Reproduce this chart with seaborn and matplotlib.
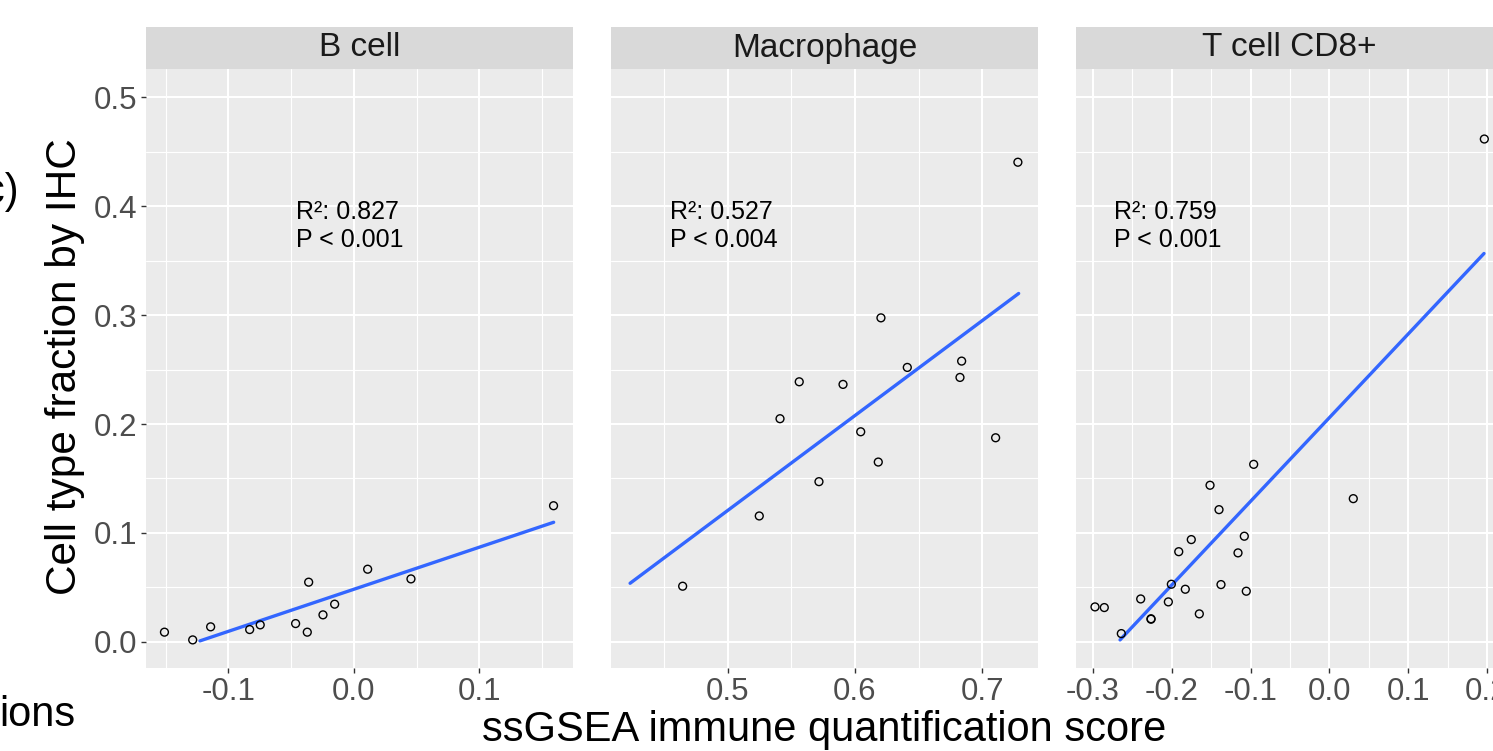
import matplotlib

matplotlib.use("Agg")

import matplotlib.pyplot as plt
import matplotlib.patches as mpatches
from matplotlib.ticker import MultipleLocator, FixedLocator
import seaborn as sns

# ── Data ──────────────────────────────────────────────────────────────────

PANELS = ["B cell", "Macrophage", "T cell CD8+"]

bcell_x = [-0.151, -0.1285, -0.1142, -0.0831, -0.0747, -0.0465, -0.0372,
           -0.0361, -0.0247, -0.0154, 0.0109, 0.0454, 0.159]
bcell_y = [0.0089, 0.0018, 0.0138, 0.0113, 0.0156, 0.0168, 0.0089,
           0.0548, 0.0248, 0.0346, 0.0667, 0.0578, 0.125]

macro_x = [0.4646, 0.5248, 0.5411, 0.5562, 0.5717, 0.5906, 0.6045,
           0.6183, 0.6204, 0.6411, 0.6825, 0.6838, 0.7105, 0.728]
macro_y = [0.0511, 0.1156, 0.2049, 0.2388, 0.1471, 0.2364, 0.1929,
           0.1651, 0.2975, 0.2520, 0.2428, 0.2578, 0.1874, 0.4404]

cd8_x = [-0.2975, -0.2857, -0.2641, -0.2395, -0.2264, -0.2264, -0.2044,
         -0.2006, -0.1912, -0.1829, -0.1753, -0.1651, -0.1515, -0.1401,
         -0.1376, -0.1160, -0.1080, -0.1055, -0.0961, 0.0303, 0.1966]
cd8_y = [0.0321, 0.0315, 0.0076, 0.0394, 0.0208, 0.0212, 0.0367,
         0.0529, 0.0828, 0.0483, 0.0939, 0.0257, 0.1438, 0.1214,
         0.0526, 0.0817, 0.0970, 0.0465, 0.1630, 0.1315, 0.4617]

# fitted lines as drawn in the figure (end points)
bcell_fit_x = [-0.1227, 0.1591]
bcell_fit_y = [0.0009, 0.1098]
macro_fit_x = [0.4233, 0.7286]
macro_fit_y = [0.0538, 0.3199]
cd8_fit_x = [-0.2657, 0.1962]
cd8_fit_y = [0.0018, 0.3566]

r2_labels = ["R²: 0.827", "R²: 0.527", "R²: 0.759"]
p_labels = ["P < 0.001", "P < 0.004", "P < 0.001"]

x_ticks = [[-0.1, 0.0, 0.1], [0.5, 0.6, 0.7], [-0.3, -0.2, -0.1, 0.0, 0.1, 0.2]]
x_ticklabels = [["-0.1", "0.0", "0.1"], ["0.5", "0.6", "0.7"],
                ["-0.3", "-0.2", "-0.1", "0.0", "0.1", "0.2"]]
y_ticks = [0.0, 0.1, 0.2, 0.3, 0.4, 0.5]
y_ticklabels = ["0.0", "0.1", "0.2", "0.3", "0.4", "0.5"]

# ── Layout ────────────────────────────────────────────────────────────────

W, H = 1493, 751
PANEL_LEFT_PX = [146, 611, 1076]
PANEL_W_PX = 427
PANEL_TOP_PX, PANEL_BOTTOM_PX = 69, 668
STRIP_H_PX = 42

x_limits = [(-0.1657, 0.1745), (0.4083, 0.7438), (-0.3216, 0.2203)]
y_limits = (-0.024, 0.526)
text_x = [-0.046, 0.4547, -0.2733]

sns.set_theme(style="darkgrid")
plt.rcParams.update({
    "axes.facecolor": "#EBEBEB",
    "grid.color": "white",
    "axes.unicode_minus": False,
})
plt.rcParams["font.family"] = ["Liberation Sans", "DejaVu Sans"]

fig = plt.figure(figsize=(W / 100, H / 100), dpi=100)

data = [(bcell_x, bcell_y, bcell_fit_x, bcell_fit_y),
        (macro_x, macro_y, macro_fit_x, macro_fit_y),
        (cd8_x, cd8_y, cd8_fit_x, cd8_fit_y)]

for i, (px, py, fx, fy) in enumerate(data):
    rect = [PANEL_LEFT_PX[i] / W, 1 - PANEL_BOTTOM_PX / H,
            PANEL_W_PX / W, (PANEL_BOTTOM_PX - PANEL_TOP_PX) / H]
    ax = fig.add_axes(rect)

    sns.lineplot(x=fx, y=fy, color="#3366FF", linewidth=2.4, ax=ax, zorder=3)
    sns.scatterplot(x=px, y=py, marker="o", s=32, facecolor="none",
                    edgecolor="black", linewidth=1.0, ax=ax, zorder=4)

    ax.set_xlim(*x_limits[i])
    ax.set_ylim(*y_limits)
    ax.xaxis.set_major_locator(FixedLocator(x_ticks[i]))
    ax.set_xticklabels(x_ticklabels[i])
    ax.xaxis.set_minor_locator(MultipleLocator(0.05))
    ax.yaxis.set_major_locator(FixedLocator(y_ticks))
    ax.yaxis.set_minor_locator(MultipleLocator(0.05))
    ax.grid(which="major", color="white", linewidth=1.5)
    ax.grid(which="minor", color="white", linewidth=0.8)
    for s in ax.spines.values():
        s.set_visible(False)

    ax.tick_params(axis="x", which="major", length=3.5, width=1.0,
                   color="#333333", labelsize=22.5, labelcolor="#4D4D4D",
                   pad=3, bottom=True)
    ax.tick_params(which="minor", length=0)
    if i == 0:
        ax.set_yticklabels(y_ticklabels)
        ax.tick_params(axis="y", which="major", length=3.5, width=1.0,
                       color="#333333", labelsize=22.5, labelcolor="#4D4D4D",
                       pad=3, left=True)
    else:
        ax.tick_params(axis="y", which="major", length=0, labelleft=False)
    ax.set_xlabel("")
    ax.set_ylabel("")

    # facet strip
    strip_h = STRIP_H_PX / (PANEL_BOTTOM_PX - PANEL_TOP_PX)
    ax.add_patch(mpatches.Rectangle((0, 1), 1, strip_h, transform=ax.transAxes,
                                    facecolor="#D9D9D9", edgecolor="none",
                                    clip_on=False))
    ax.text(0.5, 1 + strip_h / 2, PANELS[i], transform=ax.transAxes,
            ha="center", va="center", fontsize=24, color="#1A1A1A")

    ax.text(text_x[i], 0.3945, r2_labels[i], ha="left", va="center",
            fontsize=18, color="black", zorder=5)
    ax.text(text_x[i], 0.3688, p_labels[i], ha="left", va="center",
            fontsize=18, color="black", zorder=5)

fig.text(65 / W, 1 - 367 / H, "Cell type fraction by IHC", rotation=90,
         ha="center", va="center", fontsize=30.5, color="black")
fig.text(824 / W, 1 - 741 / H, "ssGSEA immune quantification score",
         ha="center", va="baseline", fontsize=30, color="black")
fig.text(19 / W, 1 - 192 / H, "(c)", ha="right", va="center", fontsize=30,
         color="black")
fig.text(75 / W, 1 - 715 / H, "ions", ha="right", va="center", fontsize=30,
         color="black")

fig.savefig("out.png", dpi=100)
plt.close(fig)
